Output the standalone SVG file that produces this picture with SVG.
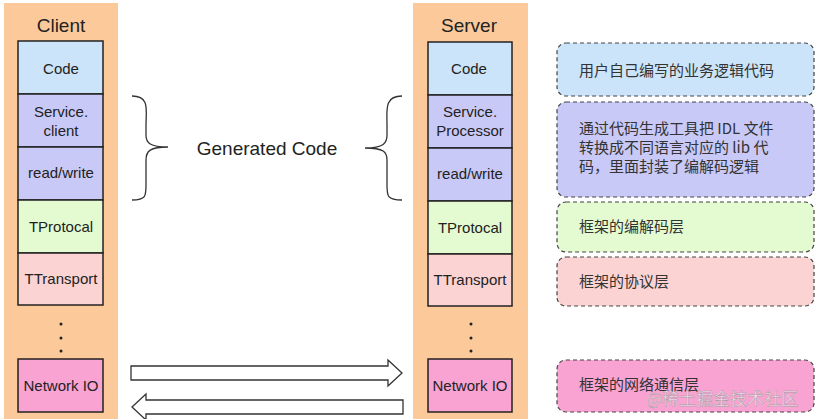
<svg xmlns="http://www.w3.org/2000/svg" width="834" height="419" viewBox="0 0 834 419">
<style>
.col{fill:#fbc99a}
.b{stroke:#222;stroke-width:1.5}
.t{font-family:"Liberation Sans",Arial,sans-serif;font-size:15px;fill:#222;text-anchor:middle}
.h{font-family:"Liberation Sans",Arial,sans-serif;font-size:19px;fill:#222;text-anchor:middle}
.n{stroke:#444;stroke-width:1.2;stroke-dasharray:4,3}
.c{font-family:"Noto Sans CJK SC",sans-serif;font-size:15px;fill:#333}
.dot{fill:#222}
</style>
<rect width="834" height="419" fill="#fff"/>
<g id="client">
<rect class="col" x="4" y="3" width="114" height="416"/>
<text class="h" x="61" y="32">Client</text>
<rect class="b" x="18" y="41" width="85" height="53" fill="#cce4fa"/><text class="t" x="61" y="74">Code</text>
<rect class="b" x="18" y="94" width="85" height="53" fill="#c9c9f7"/><text class="t" x="61" y="117">Service.</text><text class="t" x="61" y="136">client</text>
<rect class="b" x="18" y="147" width="85" height="53" fill="#c9c9f7"/><text class="t" x="61" y="178">read/write</text>
<rect class="b" x="18" y="200" width="85" height="53" fill="#e4fbd1"/><text class="t" x="61" y="232">TProtocal</text>
<rect class="b" x="18" y="253" width="85" height="52" fill="#fbd3d3"/><text class="t" x="61" y="284">TTransport</text>
<circle class="dot" cx="61" cy="324" r="1.5"/><circle class="dot" cx="61" cy="338" r="1.5"/><circle class="dot" cx="61" cy="351" r="1.5"/>
<rect class="b" x="18" y="359" width="85" height="53" fill="#f9a3d3"/><text class="t" x="61" y="391">Network IO</text>
</g>
<g id="server">
<rect class="col" x="413" y="3" width="115" height="416"/>
<text class="h" x="469" y="32">Server</text>
<rect class="b" x="428" y="42" width="84" height="53" fill="#cce4fa"/><text class="t" x="469" y="74">Code</text>
<rect class="b" x="428" y="95" width="84" height="53" fill="#c9c9f7"/><text class="t" x="470" y="117">Service.</text><text class="t" x="470" y="136">Processor</text>
<rect class="b" x="428" y="148" width="84" height="53" fill="#c9c9f7"/><text class="t" x="470" y="179">read/write</text>
<rect class="b" x="428" y="201" width="84" height="53" fill="#e4fbd1"/><text class="t" x="470" y="233">TProtocal</text>
<rect class="b" x="428" y="254" width="84" height="52" fill="#fbd3d3"/><text class="t" x="470" y="285">TTransport</text>
<circle class="dot" cx="471" cy="324" r="1.5"/><circle class="dot" cx="471" cy="338" r="1.5"/><circle class="dot" cx="471" cy="351" r="1.5"/>
<rect class="b" x="428" y="359" width="84" height="53" fill="#f9a3d3"/><text class="t" x="470" y="391">Network IO</text>
</g>
<g id="notes">
<rect class="n" x="557" y="43" width="257" height="53" rx="9" fill="#cce4fa"/><text class="c" x="579" y="76">用户自己编写的业务逻辑代码</text>
<rect class="n" x="557" y="102" width="257" height="95" rx="9" fill="#c9c9f7"/>
<text class="c" x="579" y="134">通过代码生成工具把 IDL 文件</text>
<text class="c" x="579" y="153">转换成不同语言对应的 lib 代</text>
<text class="c" x="579" y="172">码，里面封装了编解码逻辑</text>
<rect class="n" x="557" y="202" width="257" height="50" rx="9" fill="#e4fbd1"/><text class="c" x="579" y="232">框架的编解码层</text>
<rect class="n" x="557" y="257" width="257" height="49" rx="9" fill="#fbd3d3"/><text class="c" x="579" y="287">框架的协议层</text>
<rect class="n" x="557" y="360" width="257" height="52" rx="9" fill="#f9a3d3"/><text class="c" x="579" y="390">框架的网络通信层</text>
</g>
<g id="generated">
<text class="h" x="267" y="155">Generated Code</text>
</g>
<g id="connectors" fill="none" stroke="#333" stroke-width="1.3">
<path d="M132,96 C150,96 146,110 146,125 L146,135 C146,143 150,147 168,147 C150,147 146,151 146,160 L146,185 C146,196 146,200 132,200"/>
<path d="M402,96 C384,96 387,110 387,125 L387,135 C387,143 384,148 365,148 C384,148 387,152 387,160 L387,185 C387,196 387,200 402,200"/>
<path d="M131,366 L388,366 L388,360 L402,373 L388,386 L388,380 L131,380 Z" fill="#fff"/>
<path d="M403,400 L146,400 L146,394 L132,407 L146,420 L146,414 L403,414 Z" fill="#fff"/>
</g>
<text x="722" y="405" font-family="Noto Sans CJK SC,sans-serif" font-size="17" fill="#fff" fill-opacity="0.6" text-anchor="middle" stroke="#999" stroke-width="0.4">@稀土掘金技术社区</text>
</svg>
